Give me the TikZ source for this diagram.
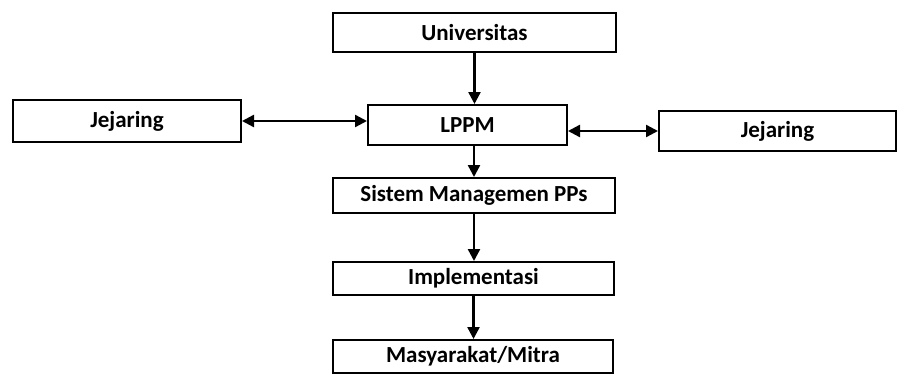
\documentclass[tikz,border=0pt]{standalone}
\usepackage{fontspec}
\setmainfont{Carlito}
\usetikzlibrary{arrows.meta}
\begin{document}
\begin{tikzpicture}[x=1pt,y=-1pt,
  box/.style={draw=black,line width=2pt,rectangle,inner sep=0pt,
    font=\fontsize{23}{26}\selectfont\bfseries},
  conn/.style={line width=2.4pt,-{Triangle[length=12pt,width=12pt]}},
  dconn/.style={line width=2.4pt,{Triangle[length=12pt,width=12pt]}-{Triangle[length=12pt,width=12pt]}}]
\useasboundingbox (0,0) rectangle (898,383);
\node[box,minimum width=283pt,minimum height=39pt] (univ) at (474.5,32.5) {Universitas};
\node[box,minimum width=228pt,minimum height=42pt] (jl) at (127,121) {Jejaring};
\node[box,minimum width=199pt,minimum height=40pt] (lppm) at (467.5,125) {LPPM};
\node[box,minimum width=237pt,minimum height=40pt] (jr) at (777.5,131) {Jejaring};
\node[box,minimum width=282pt,minimum height=35pt] (sis) at (474,195.5) {Sistem Managemen PPs};
\node[box,minimum width=281pt,minimum height=33pt] (imp) at (473.5,278.5) {Implementasi};
\node[box,minimum width=280pt,minimum height=33pt] (mas) at (473,356.5) {Masyarakat/Mitra};
\draw[conn] (univ.south) -- (univ.south |- lppm.north);
\draw[conn] (sis.north |- lppm.south) -- (sis.north);
\draw[conn] (sis.south) -- (sis.south |- imp.north);
\draw[conn] (imp.south) -- (imp.south |- mas.north);
\draw[dconn] (jl.east) -- (jl.east -| lppm.west);
\draw[dconn] (jr.west -| lppm.east) -- (jr.west);
\end{tikzpicture}
\end{document}
